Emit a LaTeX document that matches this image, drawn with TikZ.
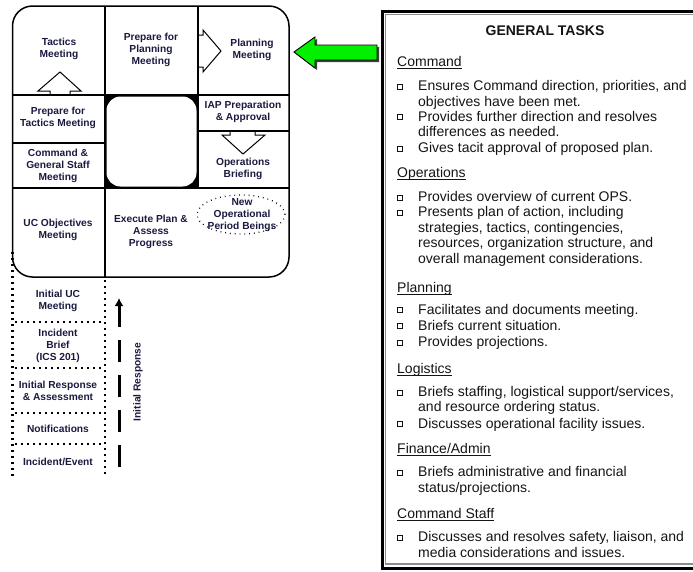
\documentclass[tikz,border=0pt]{standalone}
\usepackage{fontspec}
\setmainfont{Liberation Sans}
\usetikzlibrary{arrows.meta,shapes.geometric}
\definecolor{lbl}{HTML}{1A1A40}
\definecolor{txt}{HTML}{141414}
\definecolor{arrowgreen}{HTML}{00F000}

\begin{document}
\begin{tikzpicture}[x=1pt,y=-1pt,
  cell/.style={font=\fontsize{10.2}{11.8}\selectfont\bfseries, text=lbl, align=center, inner sep=0},
  grid/.style={line width=1.8pt, black},
  hollow/.style={line width=1pt, black, line join=miter},
  dotline/.style={line width=2.2pt, dash pattern=on 1.8pt off 4.2pt},
  body/.style={font=\fontsize{14}{15.5}\selectfont, text=txt, anchor=base west, inner sep=0},
  bul/.style={draw=txt, line width=0.8pt, minimum size=5pt, inner sep=0},
  uline/.style={line width=0.7pt, txt}
]
\useasboundingbox (0,0) rectangle (693,571);

% ---------- planning cycle ----------
% centre square: black cell with a white rounded inset
\fill[black] (105,95) rectangle (198,188);
\fill[white, rounded corners=14pt] (106.5,96.5) rectangle (196.5,186.5);

% inner grid lines
\draw[grid] (105,6) -- (105,277);
\draw[grid] (198,6) -- (198,188);
\draw[grid] (12.5,95) -- (289,95);
\draw[grid] (12.5,188) -- (289,188);
\draw[grid] (12.5,143) -- (105,143);
\draw[grid] (198,131) -- (289,131);

% outer rounded frame
\draw[line width=1.5pt, rounded corners=20pt] (12.5,6) rectangle (289,277);

% hollow block arrows inside the cycle
\draw[hollow] (50,95) -- (50,91) -- (38,91) -- (60,72) -- (81,91) -- (70,91) -- (70,95);
\draw[hollow] (198,35) -- (203,35) -- (203,30) -- (221,51) -- (203,72) -- (203,67) -- (198,67);
\draw[hollow] (230,131) -- (230,135) -- (222,135) -- (243,154) -- (265,135) -- (255,135) -- (255,131);

% cell labels
\node[cell] (tactics)  at (59,49)   {Tactics\\Meeting};
\node[cell] (prepplan) at (151,50)  {Prepare for\\Planning\\Meeting};
\node[cell] (planning) at (252,50)  {Planning\\Meeting};
\node[cell] (preptac)  at (58,118)  {Prepare for\\Tactics Meeting};
\node[cell] (cgs)      at (58,166)  {Command \&\\General Staff\\Meeting};
\node[cell] (iap)      at (243,112) {IAP Preparation\\\& Approval};
\node[cell] (opsbrief) at (243,169) {Operations\\Briefing};
\node[cell] (ucobj)    at (58,230)  {UC Objectives\\Meeting};
\node[cell] (execute)  at (151,232) {Execute Plan \&\\Assess\\Progress};
\node[cell] (newop)    at (242,215) {New\\Operational\\Period Beings};
\node[draw, ellipse, line width=1.3pt, dash pattern=on 0.8pt off 4pt,
      minimum width=88pt, minimum height=39pt] (newopring) at (241,214.5) {};

% green pointer toward the planning meeting
\fill[black!75] (296,54) -- (317,39) -- (317,47) -- (379,47) -- (379,62) -- (317,62) -- (317,70) -- cycle;
\draw[line width=0.9pt, fill=arrowgreen] (294,52) -- (315,37) -- (315,45) -- (377,45) -- (377,60) -- (315,60) -- (315,68) -- cycle;

% ---------- initial response ladder ----------
\draw[dotline] (12.5,252) -- (12.5,477);
\draw[dotline] (105,280) -- (105,477);
\foreach \yy in {322,368,413,444} \draw[dotline] (15,\yy) -- (103,\yy);

\node[cell] (initialuc) at (58,301) {Initial UC\\Meeting};
\node[cell] (brief)     at (58,346) {Incident\\Brief\\(ICS 201)};
\node[cell] (response)  at (58,391) {Initial Response\\\& Assessment};
\node[cell] (notif)     at (58,429) {Notifications};
\node[cell] (event)     at (58,462) {Incident/Event};

\coordinate (irtop) at (119,298);
\coordinate (irbot) at (119,472);
\draw[{Latex[length=8pt,width=9pt]}-, line width=3pt, dash pattern=on 22pt off 13pt] (irtop) -- (irbot);
\node[cell, rotate=90] (irlabel) at (138,382) {Initial Response};

% ---------- general tasks panel ----------
\draw[line width=3pt, black] (382,11) rectangle (730,568);
\draw[line width=1.2pt, black!45] (385.5,14.5) rectangle (730,564);

\node[font=\fontsize{14}{15.5}\selectfont\bfseries, text=txt, anchor=base, inner sep=0] (gt) at (545,35) {GENERAL TASKS};

% Command
\node[body] (hcmd) at (397,66.7) {Command};
\draw[uline] ([yshift=-2pt]hcmd.base west) -- ([yshift=-2pt]hcmd.base east);
\node[bul] (b1) at (400,86.5) {};
\node[body] (t1a) at (418,90.7) {Ensures Command direction, priorities, and};
\node[body] (t1b) at (418,106)  {objectives have been met.};
\node[bul] (b2) at (400,117) {};
\node[body] (t2a) at (418,121.3) {Provides further direction and resolves};
\node[body] (t2b) at (418,136.7) {differences as needed.};
\node[bul] (b3) at (400,148.5) {};
\node[body] (t3a) at (418,152.7) {Gives tacit approval of proposed plan.};

% Operations
\node[body] (hops) at (397,177.7) {Operations};
\draw[uline] ([yshift=-2pt]hops.base west) -- ([yshift=-2pt]hops.base east);
\node[bul] (b4) at (400,197.5) {};
\node[body] (t4a) at (418,201.7) {Provides overview of current OPS.};
\node[bul] (b5) at (400,212.5) {};
\node[body] (t5a) at (418,216.7) {Presents plan of action, including};
\node[body] (t5b) at (418,232.3) {strategies, tactics, contingencies,};
\node[body] (t5c) at (418,247.5) {resources, organization structure, and};
\node[body] (t5d) at (418,263)   {overall management considerations.};

% Planning
\node[body] (hplan) at (397,292) {Planning};
\draw[uline] ([yshift=-2pt]hplan.base west) -- ([yshift=-2pt]hplan.base east);
\node[bul] (b6) at (400,310) {};
\node[body] (t6a) at (418,314.3) {Facilitates and documents meeting.};
\node[bul] (b7) at (400,326) {};
\node[body] (t7a) at (418,330) {Briefs current situation.};
\node[bul] (b8) at (400,342.5) {};
\node[body] (t8a) at (418,346.7) {Provides projections.};

% Logistics
\node[body] (hlog) at (397,373.3) {Logistics};
\draw[uline] ([yshift=-2pt]hlog.base west) -- ([yshift=-2pt]hlog.base east);
\node[bul] (b9) at (400,392.5) {};
\node[body] (t9a) at (418,396.7) {Briefs staffing, logistical support/services,};
\node[body] (t9b) at (418,411.7) {and resource ordering status.};
\node[bul] (b10) at (400,424) {};
\node[body] (t10a) at (418,428.3) {Discusses operational facility issues.};

% Finance/Admin
\node[body] (hfin) at (397,453.3) {Finance/Admin};
\draw[uline] ([yshift=-2pt]hfin.base west) -- ([yshift=-2pt]hfin.base east);
\node[bul] (b11) at (400,472.5) {};
\node[body] (t11a) at (418,476.7) {Briefs administrative and financial};
\node[body] (t11b) at (418,492.7) {status/projections.};

% Command Staff
\node[body] (hstaff) at (397,518.3) {Command Staff};
\draw[uline] ([yshift=-2pt]hstaff.base west) -- ([yshift=-2pt]hstaff.base east);
\node[bul] (b12) at (400,537.5) {};
\node[body] (t12a) at (418,541.7) {Discusses and resolves safety, liaison, and};
\node[body] (t12b) at (418,557.7) {media considerations and issues.};
\end{tikzpicture}
\end{document}
